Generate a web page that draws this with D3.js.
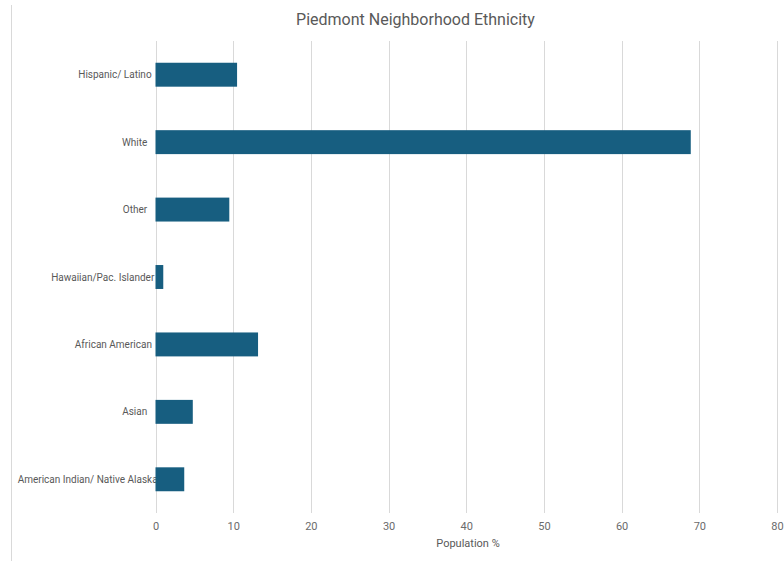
<!DOCTYPE html>
<html><head><meta charset="utf-8">
<script src="https://cdn.jsdelivr.net/npm/d3@7"></script>
<style>
html,body{margin:0;padding:0;background:#fff;}
svg{display:block;font-family:Roboto, "Noto Sans", sans-serif;}
</style></head>
<body><svg id="c" width="784" height="561"></svg>
<script>
const categories = ["Hispanic/ Latino","White","Other","Hawaiian/Pac. Islander","African American","Asian","American Indian/ Native Alaska"];
const values = [10.5, 68.9, 9.5, 1.0, 13.2, 4.8, 3.7];
const xTicks = [0,10,20,30,40,50,60,70,80];
const title = "Piedmont Neighborhood Ethnicity";
const xTitle = "Population %";

const svg = d3.select("#c");
const m = {left:155.5, right:777, top:41, bottom:513};
const x = d3.scaleLinear().domain([0,80]).range([m.left, m.right]);
const y = d3.scaleBand().domain(categories).range([m.top, m.bottom]).paddingInner(0.645).paddingOuter(0.3225);

// left frame line
svg.append("line").attr("x1",11.5).attr("x2",11.5).attr("y1",5).attr("y2",561).attr("stroke","#d9d9d9");

// grid
svg.append("g").selectAll("line").data(xTicks).join("line")
  .attr("x1",d=>Math.round(x(d))+0.5).attr("x2",d=>Math.round(x(d))+0.5)
  .attr("y1",m.top).attr("y2",m.bottom).attr("stroke","#d9d9d9");

// tick labels
const xAxis = d3.axisBottom(x).tickValues(xTicks).tickSize(0).tickPadding(0);
const ga = svg.append("g").attr("transform",`translate(0,${m.bottom+6})`).call(xAxis);
ga.select(".domain").remove();
ga.selectAll("text").attr("font-size",11).attr("fill","#6b6b6b").attr("font-family","Roboto, sans-serif").attr("dy","1.0em");

// category labels (under the bars)
const lab = svg.append("g").selectAll("text").data(categories).join("text")
  .attr("y",d=>y(d)+y.bandwidth()/2).attr("dy","0.35em")
  .attr("font-size",10).attr("fill","#595959").text(d=>d);
lab.each(function(){
  const w = this.getComputedTextLength();
  d3.select(this).attr("x", 145 - 0.91*w);
});

// bars
svg.append("g").selectAll("rect").data(values).join("rect")
  .attr("x",x(0)).attr("y",(d,i)=>y(categories[i]))
  .attr("width",d=>x(d)-x(0)).attr("height",y.bandwidth())
  .attr("fill","#175e80");

// title
svg.append("text").attr("x",415.5).attr("y",25).attr("text-anchor","middle")
  .attr("font-size",16).attr("fill","#595959").text(title);

// x title
svg.append("text").attr("x",468).attr("y",547).attr("text-anchor","middle")
  .attr("font-size",11).attr("fill","#595959").text(xTitle);
</script></body></html>
